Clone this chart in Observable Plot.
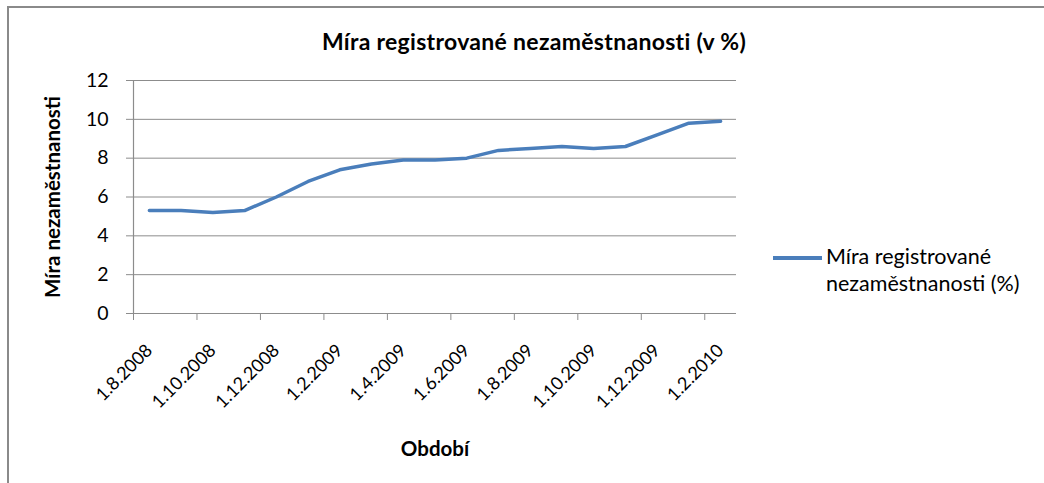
<!DOCTYPE html>
<html>
<head>
<meta charset="utf-8">
<script src="https://cdn.jsdelivr.net/npm/d3@7"></script>
<script src="https://cdn.jsdelivr.net/npm/@observablehq/plot@0.6"></script>
<style>
  body { margin: 0; background: #fff; }
  #wrap { position: relative; width: 1044px; height: 483px; overflow: hidden; background: #fff; font-family: Lato, "Open Sans", sans-serif; }
  #frame { position: absolute; left: 7px; top: 6px; right: -10px; bottom: -10px; border-left: 2px solid #8a8a8a; border-top: 2px solid #8a8a8a; }
  #title { position: absolute; left: 134px; width: 800px; top: 27px; text-align: center; font-size: 23px; letter-spacing: 0.3px; font-weight: bold; color: #000; white-space: nowrap; }
  #chart { position: absolute; left: 0; top: 0; }
  #legend { position: absolute; left: 773px; top: 243px; font-size: 21.5px; color: #000; line-height: 27px; }
  #legend .sw { position: absolute; left: 0; top: 13px; width: 49px; height: 4px; background: #4a7ebb; }
  #legend .tx { position: absolute; left: 53px; top: 0; white-space: nowrap; }
</style>
</head>
<body>
<div id="wrap">
  <div id="frame"></div>
  <div id="chart"></div>
  <div id="title"></div>
  <div id="legend"><div class="sw"></div><div class="tx"></div></div>
</div>
<script>
const chartTitle = "Míra registrované nezaměstnanosti (v %)";
const yLabel = "Míra nezaměstnanosti";
const xLabel = "Období";
const seriesName = ["Míra registrované", "nezaměstnanosti (%)"];

const categories = [
  "1.8.2008", "1.9.2008", "1.10.2008", "1.11.2008", "1.12.2008",
  "1.1.2009", "1.2.2009", "1.3.2009", "1.4.2009", "1.5.2009", "1.6.2009",
  "1.7.2009", "1.8.2009", "1.9.2009", "1.10.2009", "1.11.2009", "1.12.2009",
  "1.1.2010", "1.2.2010"
];
const values = [5.3, 5.3, 5.2, 5.3, 6.0, 6.8, 7.4, 7.7, 7.9, 7.9, 8.0, 8.4, 8.5, 8.6, 8.5, 8.6, 9.2, 9.8, 9.9];
const yTicks = [0, 2, 4, 6, 8, 10, 12];

document.getElementById("title").textContent = chartTitle;
document.querySelector("#legend .tx").innerHTML = seriesName.join("<br>");

const data = categories.map((c, i) => ({label: c, i, x: i + 0.5, v: values[i]}));
const n = categories.length;
const boundaryTicks = d3.range(0, n, 2);
const labelTicks = boundaryTicks.map(b => b + 0.5);
const gridColor = "#8c8c8c";

const plot = Plot.plot({
  width: 1044,
  height: 483,
  marginLeft: 133,
  marginRight: 308,
  marginTop: 80,
  marginBottom: 170,
  style: {fontFamily: "Lato, 'Open Sans', sans-serif", background: "transparent", color: "#000"},
  x: {domain: [0, n], type: "linear"},
  y: {domain: [0, 12]},
  marks: [
    Plot.ruleY(yTicks, {stroke: gridColor, strokeWidth: 1, strokeOpacity: 1}),
    Plot.ruleX([0], {stroke: gridColor, strokeWidth: 1.2, strokeOpacity: 1, y1: 0, y2: 12}),
    Plot.axisY({
      ticks: yTicks, tickSize: 7, tickPadding: 18, stroke: gridColor, strokeOpacity: 1,
      fontSize: 19.5, label: yLabel, labelAnchor: "center", labelArrow: "none", labelOffset: 88
    }),
    Plot.axisX({
      ticks: boundaryTicks, tickSize: 7, stroke: gridColor, strokeOpacity: 1, tickFormat: () => "", label: null
    }),
    Plot.axisX({
      ticks: labelTicks, tickSize: 0, tickPadding: 34, tickRotate: -45, fontSize: 18,
      tickFormat: d => categories[Math.floor(d)],
      label: xLabel, labelAnchor: "center", labelArrow: "none", labelOffset: 142
    }),
    Plot.line(data, {x: "x", y: "v", stroke: "#4a7ebb", strokeWidth: 3.5, strokeLinejoin: "round", strokeLinecap: "round"})
  ]
});
document.getElementById("chart").appendChild(plot);

// style axis labels bold
plot.querySelectorAll("[aria-label='y-axis label'] text, [aria-label='x-axis label'] text").forEach(t => {
  t.setAttribute("font-weight", "bold");
  t.setAttribute("font-size", "20.5");
});
</script>
</body>
</html>
